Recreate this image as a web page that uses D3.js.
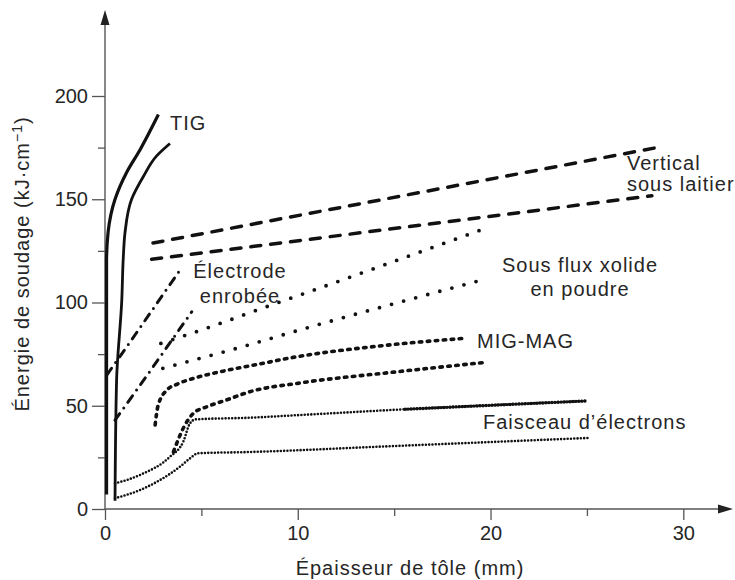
<!DOCTYPE html>
<html>
<head>
<meta charset="utf-8">
<script src="https://cdn.jsdelivr.net/npm/d3@7"></script>
<style>
    body { margin: 0; background: #fff; }
    text { font-family: "Liberation Sans", Arial, sans-serif; fill: #262626; }
</style>
</head>
<body>
<div id="chart"></div>
<script>
//size of the picture
const width = 735;
const height = 580;

//ticks
const xTicks = [0, 10, 20, 30];
const xMinor = [5, 15, 25];
const yTicks = [0, 50, 100, 150, 200];
const yMinor = [25, 75, 125, 175];

//curves, [thickness mm, energy kJ/cm]
const tigOuter = [[0.08, 7], [0.08, 60], [0.08, 120], [0.16, 134], [0.52, 150], [1.12, 163], [1.82, 174], [2.77, 191]];
const tigInner = [[0.52, 4], [0.6, 62], [0.87, 101], [0.95, 122], [1.04, 134], [1.38, 150], [1.99, 161], [2.68, 171], [3.37, 177]];
const laitierUpper = [[2.49, 128.8], [28.5, 174.8]];
const laitierLower = [[2.42, 120.9], [28.37, 151.7]];
const electrodeUpper = [[0.1, 65], [1.2, 79.5], [2.5, 97], [3.95, 116.5]];
const electrodeLower = [[0.52, 43], [2.16, 64.4], [4.5, 95.5]];
const fluxUpper = [[2.9, 80.2], [4.24, 84.3], [6.14, 90.4], [8.0, 96.7], [9.95, 103.1], [19.46, 135]];
const fluxLower = [[3.0, 68.1], [4.93, 73], [6.83, 77.8], [9.95, 86.3], [19.55, 110.9]];
const migUpper = [[2.6, 40.7], [2.75, 50], [3.2, 57.5], [3.75, 60.5], [4.6, 63.3], [6, 66.5], [8, 70.2], [10, 73.8], [14, 78.7], [18.7, 82.7]];
const migLower = [[3.55, 27.7], [4.15, 40.7], [4.58, 46.3], [5.28, 49.5], [6.3, 52.8], [7.52, 56.8], [10.1, 61], [15, 66.3], [19.72, 71]];
const electronUpper = [[0.52, 12.4], [1.82, 16.5], [3.37, 25.3], [4.06, 32.6], [4.41, 41.5], [4.7, 43.4], [7.5, 44.2], [10.1, 45.5], [15.57, 48.3], [24.9, 52.3]];
const electronBold = [[15.57, 48.3], [20, 50.2], [24.9, 52.3]];
const electronLower = [[0.52, 5.2], [1.82, 9.2], [2.85, 14], [3.89, 20.5], [4.41, 24.5], [4.83, 27], [7.52, 27.6], [14.27, 30.2], [25.06, 34.4]];

//scales
const x = d3.scaleLinear().domain([0, 30]).range([105, 683.3]);
const y = d3.scaleLinear().domain([0, 200]).range([509, 96]);

const svg = d3.select("#chart")
    .append("svg")
    .attr("width", width)
    .attr("height", height);

const axisColor = "#555";

//x axis with major and minor ticks
const xAxis = svg.append("g")
    .attr("transform", "translate(0," + y(0) + ")")
    .call(d3.axisBottom(x).tickValues(xTicks).tickSize(11).tickPadding(6).tickFormat(d3.format("d")));
xAxis.select(".domain").remove();
xAxis.selectAll("line").attr("stroke", axisColor).attr("stroke-width", 1.3);
xAxis.selectAll("text").style("font-size", "20px").attr("fill", "#262626").style("font-family", "Liberation Sans, Arial, sans-serif");

const xAxisMinor = svg.append("g")
    .attr("transform", "translate(0," + y(0) + ")")
    .call(d3.axisBottom(x).tickValues(xMinor).tickSize(7).tickFormat(""));
xAxisMinor.select(".domain").remove();
xAxisMinor.selectAll("line").attr("stroke", axisColor).attr("stroke-width", 1.3);

//y axis
const yAxis = svg.append("g")
    .attr("transform", "translate(" + x(0) + ",0)")
    .call(d3.axisLeft(y).tickValues(yTicks).tickSize(13).tickPadding(4).tickFormat(d3.format("d")));
yAxis.select(".domain").remove();
yAxis.selectAll("line").attr("stroke", axisColor).attr("stroke-width", 1.3);
yAxis.selectAll("text").style("font-size", "20px").attr("fill", "#262626").style("font-family", "Liberation Sans, Arial, sans-serif");

const yAxisMinor = svg.append("g")
    .attr("transform", "translate(" + x(0) + ",0)")
    .call(d3.axisLeft(y).tickValues(yMinor).tickSize(7).tickFormat(""));
yAxisMinor.select(".domain").remove();
yAxisMinor.selectAll("line").attr("stroke", axisColor).attr("stroke-width", 1.3);

//axis lines with arrows
svg.append("line")
    .attr("x1", x(0)).attr("y1", y(0))
    .attr("x2", 726).attr("y2", y(0))
    .attr("stroke", axisColor).attr("stroke-width", 1.4);
svg.append("path")
    .attr("d", "M733," + y(0) + "L718," + (y(0) - 4.5) + "L718," + (y(0) + 4.5) + "Z")
    .attr("fill", "#222");

svg.append("line")
    .attr("x1", x(0)).attr("y1", y(0))
    .attr("x2", x(0)).attr("y2", 18)
    .attr("stroke", axisColor).attr("stroke-width", 1.4);
svg.append("path")
    .attr("d", "M" + x(0) + ",10L" + (x(0) - 4.5) + ",25L" + (x(0) + 4.5) + ",25Z")
    .attr("fill", "#222");

//line generators
const smooth = d3.line()
    .x(function (d) { return x(d[0]); })
    .y(function (d) { return y(d[1]); })
    .curve(d3.curveMonotoneX);

const smoothY = d3.line()
    .x(function (d) { return x(d[0]); })
    .y(function (d) { return y(d[1]); })
    .curve(d3.curveMonotoneY);

const straight = d3.line()
    .x(function (d) { return x(d[0]); })
    .y(function (d) { return y(d[1]); });

function drawCurve(data, gen, widthPx, dash) {
    svg.append("path")
        .datum(data)
        .attr("d", gen)
        .attr("fill", "none")
        .attr("stroke", "#111")
        .attr("stroke-width", widthPx)
        .attr("stroke-linecap", dash ? "round" : "butt")
        .attr("stroke-dasharray", dash || null);
}

//TIG
drawCurve(tigOuter, smoothY, 3.2, null);
drawCurve(tigInner, smoothY, 2.8, null);

//vertical sous laitier
drawCurve(laitierUpper, straight, 3.5, "10,10");
drawCurve(laitierLower, straight, 3.5, "10,10");

//electrode enrobee, dash dot
drawCurve(electrodeUpper, straight, 3, "8,7,0,7");
drawCurve(electrodeLower, straight, 3, "8,7,0,7");

//sous flux, round dots
drawCurve(fluxUpper, smooth, 3.8, "0,12.5");
drawCurve(fluxLower, smooth, 3.8, "0,12.5");

//MIG-MAG, short dashes
drawCurve(migUpper, smooth, 3.6, "2.5,5.5");
drawCurve(migLower, smooth, 3.6, "2.5,5.5");

//electron beam, fine dots
drawCurve(electronUpper, smooth, 2.6, "0,3.3");
drawCurve(electronBold, smooth, 3.4, "0,3");
drawCurve(electronLower, smooth, 2.6, "0,3.3");

//labels
function label(txt, px, py, anchor) {
    svg.append("text")
        .attr("x", px)
        .attr("y", py)
        .attr("text-anchor", anchor)
        .style("font-size", "20px")
        .style("letter-spacing", "1px")
        .text(txt);
}

label("TIG", 170, 130, "start");
label("Vertical", 627, 170, "start");
label("sous laitier", 627, 191, "start");
label("Électrode", 240, 278, "middle");
label("enrobée", 240, 303, "middle");
label("Sous flux xolide", 580, 272, "middle");
label("en poudre", 580, 296, "middle");
label("MIG-MAG", 477, 348, "start");
label("Faisceau d’électrons", 483, 429, "start");

//axis titles
label("Épaisseur de tôle (mm)", 410, 575, "middle");

const yTitle = svg.append("text")
    .attr("transform", "translate(29,264) rotate(-90)")
    .attr("text-anchor", "middle")
    .style("font-size", "20px")
    .style("letter-spacing", "1px");
yTitle.append("tspan").text("Énergie de soudage (kJ·cm");
yTitle.append("tspan").attr("dy", -7).style("font-size", "14px").text("−1");
yTitle.append("tspan").attr("dy", 7).text(")");
</script>
</body>
</html>
